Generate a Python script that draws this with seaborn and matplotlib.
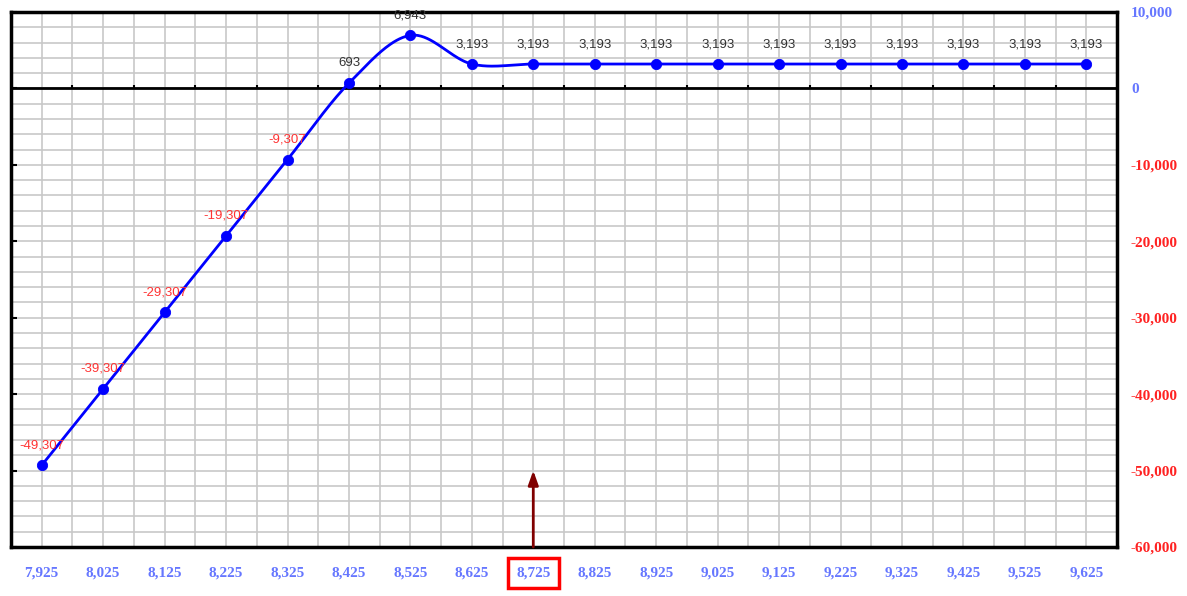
import numpy as np
import pandas as pd
import matplotlib
matplotlib.use("Agg")
import matplotlib.pyplot as plt
import seaborn as sns

# ---- data ----
strikes = [7925, 8025, 8125, 8225, 8325, 8425, 8525, 8625, 8725, 8825,
           8925, 9025, 9125, 9225, 9325, 9425, 9525, 9625]
pnl = [-49307, -39307, -29307, -19307, -9307, 693, 6943, 3193, 3193, 3193,
       3193, 3193, 3193, 3193, 3193, 3193, 3193, 3193]
y_ticks = [10000, 0, -10000, -20000, -30000, -40000, -50000, -60000]
highlight_strike = 8725

sns.set_theme(style="white")
plt.rcParams['font.family'] = ['Liberation Sans', 'DejaVu Sans']

fig = plt.figure(figsize=(11.87, 5.96), dpi=100)
ax = fig.add_axes([11/1187, 1-547/596, (1117-11)/1187, (547-12)/596])

x = np.array(strikes, dtype=float)
y = np.array(pnl, dtype=float)

# smooth (Catmull-Rom) rendering of the line, like a spreadsheet "smoothed line"
P = np.concatenate([[2*y[0] - y[1]], y, [2*y[-1] - y[-2]]])
xs, ys = [], []
t = np.linspace(0, 1, 40, endpoint=False)
for i in range(len(y) - 1):
    p0, p1, p2, p3 = P[i], P[i+1], P[i+2], P[i+3]
    seg = 0.5 * ((2*p1) + (-p0 + p2)*t + (2*p0 - 5*p1 + 4*p2 - p3)*t**2 + (-p0 + 3*p1 - 3*p2 + p3)*t**3)
    xs.extend(x[i] + (x[i+1]-x[i])*t)
    ys.extend(seg)
xs.append(x[-1]); ys.append(y[-1])
df_s = pd.DataFrame({"x": xs, "y": ys})
df = pd.DataFrame({"x": x, "y": y})

step = x[1] - x[0]
ax.set_xlim(x[0] - step/2, x[-1] + step/2)
ax.set_ylim(min(y_ticks), max(y_ticks))

# grid
for gx in np.arange(x[0], x[-1] + 1, step/2):
    ax.axvline(gx, color="#c8c8c8", lw=1.2, zorder=0)
for gy in np.arange(min(y_ticks), max(y_ticks) + 1, 2000):
    ax.axhline(gy, color="#c8c8c8", lw=1.2, zorder=0)

ax.axhline(0, color="black", lw=2.0, zorder=1)
# small ticks on the zero line between categories
mids = x[:-1] + step/2
ax.vlines(mids, 0, 500, color="black", lw=1.5, zorder=1)

sns.lineplot(data=df_s, x="x", y="y", ax=ax, color="#0000ff", lw=2.0, zorder=3, sort=False)
sns.scatterplot(data=df, x="x", y="y", ax=ax, color="#0000ff", s=55, marker="o",
                edgecolor="#0000ff", zorder=4)

for xi, yi in zip(x, y):
    col = "#ff3333" if yi < 0 else "#333333"
    ax.annotate(f"{int(yi):,}", (xi, yi), xytext=(0, 20), textcoords="offset pixels",
                ha="center", va="center", fontsize=9.5, color=col, zorder=5)

# axes styling
for s in ax.spines.values():
    s.set_color("black")
    s.set_linewidth(2.5)
    s.set_visible(True)

ax.set_xticks(x)
ax.set_xticklabels([f"{int(v):,}" for v in strikes])
ax.set_yticks(y_ticks)
ax.set_yticklabels([f"{v:,}" for v in y_ticks])
ax.tick_params(axis="x", length=0, pad=14)
ax.tick_params(axis="y", left=True, right=False, direction="in", length=4, width=1.5,
               color="black", labelleft=False, labelright=True, pad=10)
for lab in ax.get_xticklabels():
    lab.set_fontfamily("Liberation Serif")
    lab.set_fontweight("bold")
    lab.set_fontsize(11)
    lab.set_color("#6677ff")
for lab, v in zip(ax.get_yticklabels(), y_ticks):
    lab.set_fontfamily("Liberation Serif")
    lab.set_fontweight("bold")
    lab.set_fontsize(11)
    lab.set_color("#ff2222" if v < 0 else "#6677ff")
ax.set_xlabel("")
ax.set_ylabel("")

# highlighted strike
hi = strikes.index(highlight_strike)
ax.get_xticklabels()[hi].set_bbox(dict(facecolor="none", edgecolor="#ff0000", lw=2.5,
                                       boxstyle="square,pad=0.55"))
ax.annotate("", xy=(highlight_strike, -50000), xytext=(highlight_strike, min(y_ticks)),
            arrowprops=dict(arrowstyle="-|>,head_width=0.25,head_length=0.7",
                            color="#800000", lw=2.0, shrinkA=0, shrinkB=0),
            zorder=6, annotation_clip=False)

fig.savefig("out.png", dpi=100)
